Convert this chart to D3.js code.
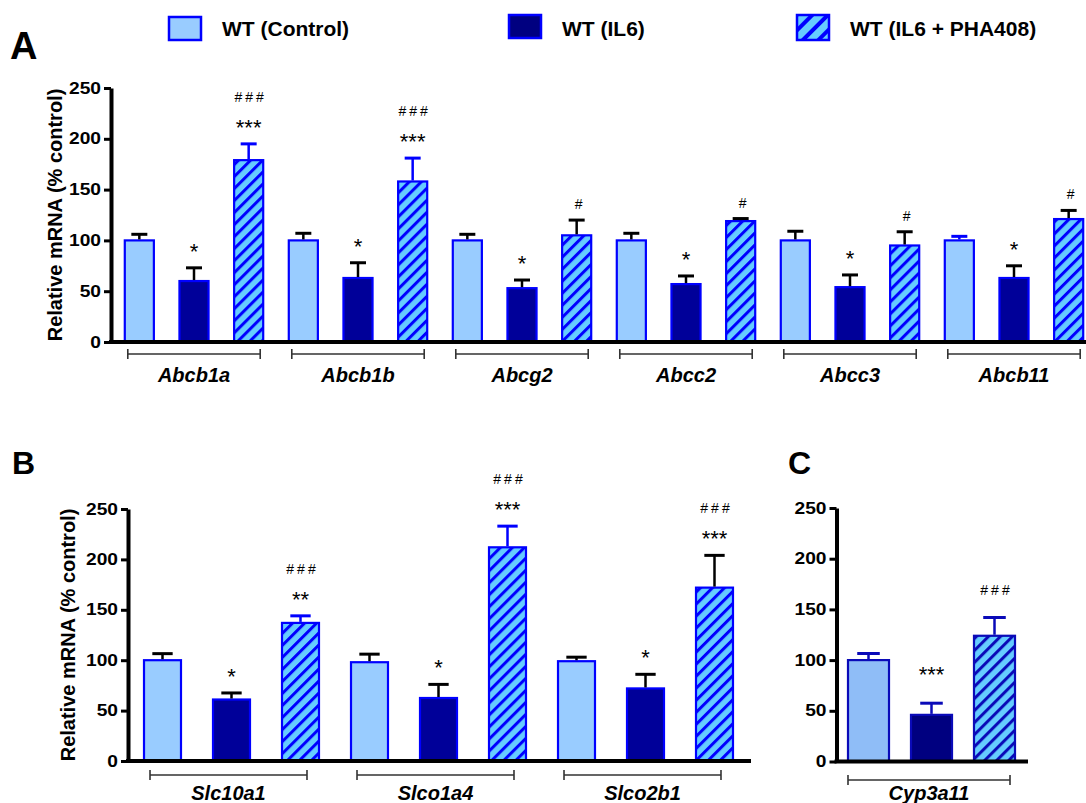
<!DOCTYPE html>
<meta charset="utf-8">
<style>
  body { margin: 0; background: #fff; }
  text { font-family: "Liberation Sans", Arial, sans-serif; }
</style>
<body>
<script src="https://cdn.jsdelivr.net/npm/d3@7"></script>
<script>

var W = 1086, H = 803;

// ---- data ----
var series = ["WT (Control)", "WT (IL6)", "WT (IL6 + PHA408)"];
var keys = ["ctl", "il6", "pha"];
var yTicks = [0, 50, 100, 150, 200, 250];

var genesA = ["Abcb1a", "Abcb1b", "Abcg2", "Abcc2", "Abcc3", "Abcb11"];
var ctlA = [100, 100, 100, 100, 100, 100];
var ctlSemA = [6, 7, 6, 7, 9, 4];
var il6A = [60, 63, 53, 57, 54, 63];
var il6SemA = [13, 15, 8, 8, 12, 12];
var phaA = [179, 158, 105, 119, 95, 121];
var phaSemA = [16, 23, 15, 2.5, 13.5, 8.5];
var il6SigA = ["*", "*", "*", "*", "*", "*"];
var phaSigA = ["***", "***", "", "", "", ""];
var phaHashA = ["###", "###", "#", "#", "#", "#"];

var genesB = ["Slc10a1", "Slco1a4", "Slco2b1"];
var ctlB = [100, 98, 99];
var ctlSemB = [6.5, 8, 4];
var il6B = [61, 62.5, 72];
var il6SemB = [6.5, 13.5, 14];
var phaB = [137, 212, 172];
var phaSemB = [7, 21, 32];
var il6SigB = ["*", "*", "*"];
var phaSigB = ["**", "***", "***"];
var phaHashB = ["###", "###", "###"];

var genesC = ["Cyp3a11"];
var ctlC = [100];
var ctlSemC = [6.5];
var il6C = [46];
var il6SemC = [11.5];
var phaC = [124];
var phaSemC = [18];
var il6SigC = ["***"];
var phaSigC = [""];
var phaHashC = ["###"];

// whiskers drawn in blue instead of black (as in the original figure)
var blueWhisk = ["Abcb1a-pha", "Abcb1b-pha", "Abcb11-ctl", "Slc10a1-pha", "Slco1a4-pha",
                 "Cyp3a11-ctl", "Cyp3a11-il6", "Cyp3a11-pha"];

var svg = d3.select('body').append('svg')
    .attr('width', W).attr('height', H);

var defs = svg.append('defs');
function hatch(id, size, stripe, dark) {
  var p = defs.append('pattern').attr('id', id)
    .attr('patternUnits', 'userSpaceOnUse')
    .attr('width', size).attr('height', size)
    .attr('patternTransform', 'rotate(45)');
  p.append('rect').attr('width', size).attr('height', size).attr('fill', '#66ccff');
  p.append('rect').attr('width', stripe).attr('height', size).attr('fill', dark);
}
hatch('hatch', 8.5, 3, '#0000ff');
hatch('hatchC', 8.5, 3, '#0a0ab8');
hatch('hatchL', 11, 4, '#0000ff');

// ---- legend ----
var legX = [169, 509, 797];
var legY = [17, 15, 15];
var legH = [23, 23, 25];
var legFill = ['#99ccff', '#000080', 'url(#hatchL)'];
series.forEach(function(s, i) {
  svg.append('rect')
    .attr('x', legX[i]).attr('y', legY[i])
    .attr('width', 32).attr('height', legH[i])
    .attr('fill', legFill[i])
    .attr('stroke', '#0000ff').attr('stroke-width', 2.5);
  svg.append('text')
    .attr('x', legX[i] + 53).attr('y', 36)
    .attr('font-size', 21).attr('font-weight', 'bold')
    .text(s);
});

function panel(o) {
  var g = svg.append('g');
  var y = d3.scaleLinear().domain([0, 250]).range(o.yr);
  var x0 = d3.scaleBand().domain(o.genes).range(o.xr);
  var x1 = d3.scaleBand().domain(keys).range([0, x0.bandwidth()])
    .paddingInner(o.pin).paddingOuter(o.pout);

  var rows = [];
  o.genes.forEach(function(gn, i) {
    rows.push({gene: gn, key: 'ctl', v: o.ctl[i], sem: o.ctlSem[i]});
    rows.push({gene: gn, key: 'il6', v: o.il6[i], sem: o.il6Sem[i], sig: o.il6Sig[i]});
    rows.push({gene: gn, key: 'pha', v: o.pha[i], sem: o.phaSem[i], sig: o.phaSig[i], hash: o.phaHash[i]});
  });
  var bx = function(d) { return x0(d.gene) + x1(d.key); };
  var cx = function(d) { return bx(d) + x1.bandwidth() / 2; };

  // bars
  g.selectAll('rect.bar').data(rows).enter().append('rect')
    .attr('class', 'bar')
    .attr('x', bx)
    .attr('y', function(d) { return y(d.v); })
    .attr('width', x1.bandwidth())
    .attr('height', function(d) { return y(0) - y(d.v); })
    .attr('fill', function(d) { return o.fills[d.key]; })
    .attr('stroke', o.edge).attr('stroke-width', 2.2);

  // error bars
  var capW = x1.bandwidth() * 0.55;
  var wc = function(d) {
    return blueWhisk.indexOf(d.gene + '-' + d.key) >= 0 ? o.whiskBlue : '#000';
  };
  g.selectAll('line.wh').data(rows).enter().append('line')
    .attr('x1', cx).attr('x2', cx)
    .attr('y1', function(d) { return y(d.v) - 1; })
    .attr('y2', function(d) { return y(d.v + d.sem); })
    .attr('stroke', wc).attr('stroke-width', 2.5);
  g.selectAll('line.cap').data(rows).enter().append('line')
    .attr('x1', function(d) { return cx(d) - capW / 2; })
    .attr('x2', function(d) { return cx(d) + capW / 2; })
    .attr('y1', function(d) { return y(d.v + d.sem); })
    .attr('y2', function(d) { return y(d.v + d.sem); })
    .attr('stroke', wc).attr('stroke-width', 3);

  // significance marks
  rows.forEach(function(d) {
    var top = y(d.v + d.sem);
    var yy = top;
    if (d.sig) {
      yy = top - o.starGap;
      g.append('text').attr('x', cx(d)).attr('y', yy + 13)
        .attr('text-anchor', 'middle').attr('font-size', 22)
        .text(d.sig);
    }
    if (d.hash) {
      yy = d.sig ? yy - 25 : top - o.hashGap;
      g.append('text').attr('x', cx(d) + 2).attr('y', yy + 5)
        .attr('text-anchor', 'middle').attr('font-size', 14).attr('fill', '#000')
        .attr('letter-spacing', d.hash.length > 1 ? 3 : 0)
        .text(d.hash);
    }
  });

  // y axis
  var ax = g.append('g').attr('transform', 'translate(' + o.axX + ',0)')
    .call(d3.axisLeft(y).tickValues(yTicks).tickSize(7).tickPadding(2).tickSizeOuter(0));
  ax.select('.domain').attr('stroke-width', 4).attr('stroke', '#000');
  ax.selectAll('.tick line').attr('stroke-width', 3).attr('stroke', '#000');
  ax.selectAll('.tick text')
    .style('font-size', '16px').style('font-weight', 'bold').attr('fill', '#000')
    .attr('x', -10 / 1.2).attr('transform', 'scale(1.2,1)');

  // x axis baseline
  g.append('line')
    .attr('x1', o.axX - 2).attr('x2', o.axEnd)
    .attr('y1', y(0)).attr('y2', y(0))
    .attr('stroke', '#000').attr('stroke-width', 4);

  // group brackets + gene names
  o.genes.forEach(function(gn) {
    var a = x0(gn) + x1('ctl') + o.brIn[0];
    var b = x0(gn) + x1('pha') + x1.bandwidth() - o.brIn[1];
    var by = o.brY;
    g.append('path')
      .attr('d', 'M' + a + ',' + (by - 5) + 'V' + (by + 5) + 'M' + a + ',' + by + 'H' + b +
                 'M' + b + ',' + (by - 5) + 'V' + (by + 5))
      .attr('fill', 'none').attr('stroke', '#333').attr('stroke-width', 1.6);
    g.append('text')
      .attr('x', (a + b) / 2).attr('y', o.geneY)
      .attr('text-anchor', 'middle').attr('font-size', 20)
      .attr('font-weight', 'bold').attr('font-style', 'italic')
      .text(gn);
  });

  if (o.yLab) {
    var my = (o.yr[0] + o.yr[1]) / 2;
    g.append('text')
      .attr('transform', 'translate(' + o.yLab + ',' + my + ') rotate(-90)')
      .attr('dy', '0.35em')
      .attr('text-anchor', 'middle').attr('font-size', 20).attr('font-weight', 'bold')
      .text('Relative mRNA (% control)');
  }

  svg.append('text')
    .attr('x', o.tag[0]).attr('y', o.tag[1])
    .attr('font-size', o.tag[2]).attr('font-weight', 'bold')
    .text(o.tag[3]);
}

var fillsAB = {ctl: '#99ccff', il6: '#000099', pha: 'url(#hatch)'};

panel({
  genes: genesA, ctl: ctlA, ctlSem: ctlSemA, il6: il6A, il6Sem: il6SemA,
  pha: phaA, phaSem: phaSemA, il6Sig: il6SigA, phaSig: phaSigA, phaHash: phaHashA,
  yr: [342, 88], xr: [112, 1096], pin: 0.468, pout: 0.234,
  axX: 111, axEnd: 1086, brY: 354, brIn: [3, 3], geneY: 382,
  fills: fillsAB, edge: '#0000ff', whiskBlue: '#0000ff',
  starGap: 22, hashGap: 16, yLab: 55, tag: [10, 59, 38, 'A']
});

panel({
  genes: genesB, ctl: ctlB, ctlSem: ctlSemB, il6: il6B, il6Sem: il6SemB,
  pha: phaB, phaSem: phaSemB, il6Sig: il6SigB, phaSig: phaSigB, phaHash: phaHashB,
  yr: [761, 509], xr: [128, 749], pin: 0.464, pout: 0.232,
  axX: 128, axEnd: 751, brY: 775, brIn: [6, 12], geneY: 800,
  fills: fillsAB, edge: '#0000ff', whiskBlue: '#0000ff',
  starGap: 22, hashGap: 16, yLab: 68, tag: [12, 474, 32, 'B']
});

panel({
  genes: genesC, ctl: ctlC, ctlSem: ctlSemC, il6: il6C, il6Sem: il6SemC,
  pha: phaC, phaSem: phaSemC, il6Sig: il6SigC, phaSig: phaSigC, phaHash: phaHashC,
  yr: [761.5, 508], xr: [837, 1026], pin: 0.349, pout: 0.1745,
  axX: 836.5, axEnd: 1028, brY: 780, brIn: [0, 5], geneY: 800,
  fills: {ctl: '#8fbdf7', il6: '#000080', pha: 'url(#hatchC)'}, edge: '#0a0ab8', whiskBlue: '#0a0ab8',
  starGap: 34, hashGap: 28, yLab: 0, tag: [788, 474, 32, 'C']
});

</script>
</body>
